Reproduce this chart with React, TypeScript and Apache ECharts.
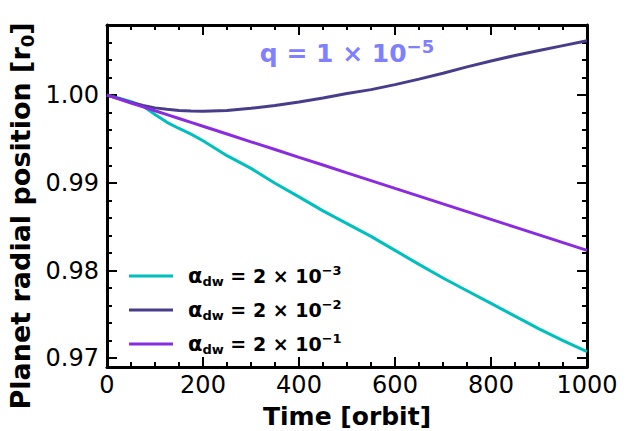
import React, { useEffect, useRef } from "react";
import * as echarts from "echarts";

const times = [0, 25, 50, 75, 100, 125, 150, 175, 200, 250, 300, 350, 400, 450, 500, 550, 600, 650, 700, 750, 800, 850, 900, 950, 1000];

const seriesNames = ["alpha_dw=2e-3", "alpha_dw=2e-2", "alpha_dw=2e-1"];
const seriesExponents = ["−3", "−2", "−1"];
const seriesColors = ["#00bfbf", "#483d8b", "#8a2be2"];

const alpha2e3 = [1.0, 0.99965, 0.99925, 0.99875, 0.9978, 0.9969, 0.9962, 0.99555, 0.9948, 0.9931, 0.99165, 0.98995, 0.9884, 0.9868, 0.98535, 0.9839, 0.9823, 0.9807, 0.97915, 0.9777, 0.97625, 0.9748, 0.97335, 0.972, 0.97075];
const alpha2e2 = [1.0, 0.9996, 0.99918, 0.99882, 0.99855, 0.99838, 0.99826, 0.99819, 0.99817, 0.99826, 0.9985, 0.99882, 0.99922, 0.99968, 1.00018, 1.00063, 1.0012, 1.00183, 1.0025, 1.00322, 1.0039, 1.00452, 1.0051, 1.00565, 1.0062];
const alpha2e1 = [1.0, 0.99956, 0.99911, 0.99867, 0.99822, 0.99778, 0.99734, 0.9969, 0.99645, 0.99557, 0.99468, 0.9938, 0.99291, 0.99203, 0.99114, 0.99026, 0.98937, 0.98849, 0.9876, 0.98672, 0.98584, 0.98495, 0.98407, 0.98318, 0.9823];

const yMajorTicks = [0.97, 0.98, 0.99, 1.0];
const yMinorTicks = [0.972, 0.974, 0.976, 0.978, 0.982, 0.984, 0.986, 0.988, 0.992, 0.994, 0.996, 0.998, 1.002, 1.004, 1.006];

const xMin = 0;
const xMax = 1000;
const xInterval = 200;
const yMin = 0.969;
const yMax = 1.008;

const FONT = "DejaVu Sans";

export default function App() {
  const ref = useRef<HTMLDivElement>(null);
  useEffect(() => {
    if (!ref.current) return;
    document.body.style.margin = "0";
    const chart = echarts.init(ref.current, null, { renderer: "svg" });
    const allValues = [alpha2e3, alpha2e2, alpha2e1];

    const axisLine = { show: true, lineStyle: { color: "#000", width: 3 } };
    const mkY = (position: string, ticks: number[], len: number, labels: boolean, line: boolean) => ({
      type: "value",
      min: yMin,
      max: yMax,
      position,
      axisLine: { ...axisLine, show: line },
      splitLine: { show: false },
      axisTick: { show: true, inside: true, length: len, lineStyle: { color: "#000", width: 2 }, customValues: ticks },
      axisLabel: labels
        ? { show: true, customValues: yMajorTicks, formatter: (v: number) => v.toFixed(2), fontSize: 24, color: "#000", fontFamily: FONT, margin: 8 }
        : { show: false },
    });
    const mkX = (position: string, labels: boolean) => ({
      type: "value",
      min: xMin,
      max: xMax,
      interval: xInterval,
      position,
      axisLine,
      splitLine: { show: false },
      axisTick: { show: true, inside: true, length: 10, lineStyle: { color: "#000", width: 2 } },
      minorTick: { show: true, splitNumber: 4, length: 5, lineStyle: { color: "#000", width: 2 } },
      axisLabel: labels
        ? { show: true, fontSize: 24, lineHeight: 24, color: "#000", fontFamily: FONT, margin: 6, formatter: (v: number) => String(v) }
        : { show: false },
    });

    chart.setOption({
      animation: false,
      grid: { left: 107, right: 57, top: 25, bottom: 64, outerBoundsMode: "none", containLabel: false },
      xAxis: [mkX("bottom", true), mkX("top", false)],
      yAxis: [
        mkY("left", yMajorTicks, 10, true, true),
        mkY("left", yMinorTicks, 5, false, false),
        mkY("right", yMajorTicks, 10, false, true),
        mkY("right", yMinorTicks, 5, false, false),
      ],
      legend: {
        orient: "vertical",
        left: 124,
        top: 259,
        itemWidth: 44,
        itemHeight: 3,
        itemGap: 10,
        icon: "rect",
        data: seriesNames,
        formatter: (name: string) => {
          const i = seriesNames.indexOf(name);
          return `{a|α}{sub|dw}{b| = 2 × 10}{sup|${seriesExponents[i]}}`;
        },
        textStyle: {
          fontFamily: FONT,
          fontWeight: "bold",
          color: "#000",
          rich: {
            a: { fontSize: 21, fontWeight: "bold", fontFamily: FONT, lineHeight: 24, padding: [0, 0, 0, 10], color: "#000" },
            sub: { fontSize: 13, fontWeight: "bold", fontFamily: FONT, lineHeight: 15, verticalAlign: "bottom", color: "#000" },
            b: { fontSize: 19, fontWeight: "bold", fontFamily: FONT, lineHeight: 24, color: "#000" },
            sup: { fontSize: 13, fontWeight: "bold", fontFamily: FONT, lineHeight: 12, verticalAlign: "top", color: "#000" },
          },
        },
      },
      graphic: [
        {
          type: "text",
          x: 347,
          y: 37,
          style: {
            text: "{m|q = 1 × 10}{s|−5}",
            align: "center",
            verticalAlign: "top",
            rich: {
              m: { fontSize: 25, fontWeight: "bold", fontFamily: FONT, fill: "#8080ff", lineHeight: 32 },
              s: { fontSize: 18, fontWeight: "bold", fontFamily: FONT, fill: "#8080ff", lineHeight: 17, verticalAlign: "top" },
            },
          },
        },
        {
          type: "text",
          x: 347,
          y: 416,
          style: {
            text: "Time [orbit]",
            fontSize: 25,
            lineHeight: 24,
            fontWeight: "bold",
            fontFamily: FONT,
            fill: "#000",
            align: "center",
            verticalAlign: "middle",
          },
        },
        {
          type: "text",
          x: 20,
          y: 216,
          rotation: Math.PI / 2,
          style: {
            text: "{m|Planet radial position [r}{s|0}{m|]}",
            align: "center",
            verticalAlign: "middle",
            rich: {
              m: { fontSize: 27, fontWeight: "bold", fontFamily: FONT, fill: "#000", lineHeight: 32 },
              s: { fontSize: 18, fontWeight: "bold", fontFamily: FONT, fill: "#000", lineHeight: 18, verticalAlign: "bottom" },
            },
          },
        },
      ],
      series: seriesNames.map((name, i) => ({
        name,
        type: "line",
        showSymbol: false,
        symbol: "none",
        xAxisIndex: 0,
        yAxisIndex: 0,
        color: seriesColors[i],
        lineStyle: { color: seriesColors[i], width: 3 },
        data: times.map((t, k) => [t, allValues[i][k]]),
        z: 2 + i,
      })),
    });
    return () => chart.dispose();
  }, []);
  return <div ref={ref} style={{ width: 644, height: 431, position: "absolute", left: 0, top: 0 }} />;
}
